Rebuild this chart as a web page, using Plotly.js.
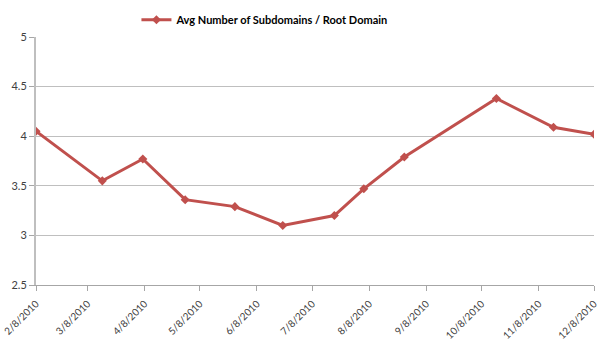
<!DOCTYPE html>
<html>
<head>
<meta charset="utf-8">
<script src="https://cdn.plot.ly/plotly-3.0.1.min.js"></script>
<style>html,body{margin:0;padding:0;background:#fff;}#chart{width:600px;height:351px;}</style>
</head>
<body>
<div id="chart"></div>
<script>
var seriesName = "Avg Number of Subdomains / Root Domain";
var dates = ["2010-02-08","2010-03-16","2010-04-07","2010-04-30","2010-05-27","2010-06-22","2010-07-20","2010-08-05","2010-08-27","2010-10-16","2010-11-16","2010-12-08"];
var values = [4.05, 3.55, 3.77, 3.36, 3.29, 3.10, 3.20, 3.47, 3.79, 4.38, 4.09, 4.02];
var tickDates = ["2010-02-08","2010-03-08","2010-04-08","2010-05-08","2010-06-08","2010-07-08","2010-08-08","2010-09-08","2010-10-08","2010-11-08","2010-12-08"];
var tickLabels = ["2/8/2010","3/8/2010","4/8/2010","5/8/2010","6/8/2010","7/8/2010","8/8/2010","9/8/2010","10/8/2010","11/8/2010","12/8/2010"];

var trace = {
  x: dates, y: values, type: "scatter", mode: "lines+markers", name: seriesName,
  line: {color: "#C0504D", width: 3},
  marker: {symbol: "diamond", size: 7, color: "#C0504D"}
};
var layout = {
  width: 600, height: 351,
  margin: {l: 36, r: 6, t: 36, b: 66},
  paper_bgcolor: "#fff", plot_bgcolor: "#fff",
  font: {family: "Lato, Open Sans, sans-serif", size: 11, color: "#404040"},
  showlegend: true,
  legend: {orientation: "h", x: 0.18, xanchor: "left", y: 1.065, yanchor: "middle",
           font: {family: "Lato, sans-serif", size: 11, color: "#000", weight: 700}, itemwidth: 30},
  xaxis: {
    type: "date", range: ["2010-02-08", "2010-12-08"],
    tickmode: "array", tickvals: tickDates, ticktext: tickLabels,
    tickangle: -45, ticks: "outside", ticklen: 5, tickcolor: "#A6A6A6",
    ticklabelstandoff: 3, ticklabeloverflow: "allow",
    showline: true, linecolor: "#A6A6A6", linewidth: 1,
    showgrid: false, zeroline: false, tickfont: {size: 10, color: "#404040"}
  },
  yaxis: {
    range: [2.5, 5], dtick: 0.5, tick0: 2.5,
    ticks: "outside", ticklen: 5, tickcolor: "#A6A6A6",
    showline: true, linecolor: "#BFBFBF", linewidth: 2,
    showgrid: true, gridcolor: "#BFBFBF", gridwidth: 1, zeroline: false,
    tickfont: {size: 11, color: "#404040"}
  }
};
Plotly.newPlot("chart", [trace], layout, {displayModeBar: false, staticPlot: true});
</script>
</body>
</html>
